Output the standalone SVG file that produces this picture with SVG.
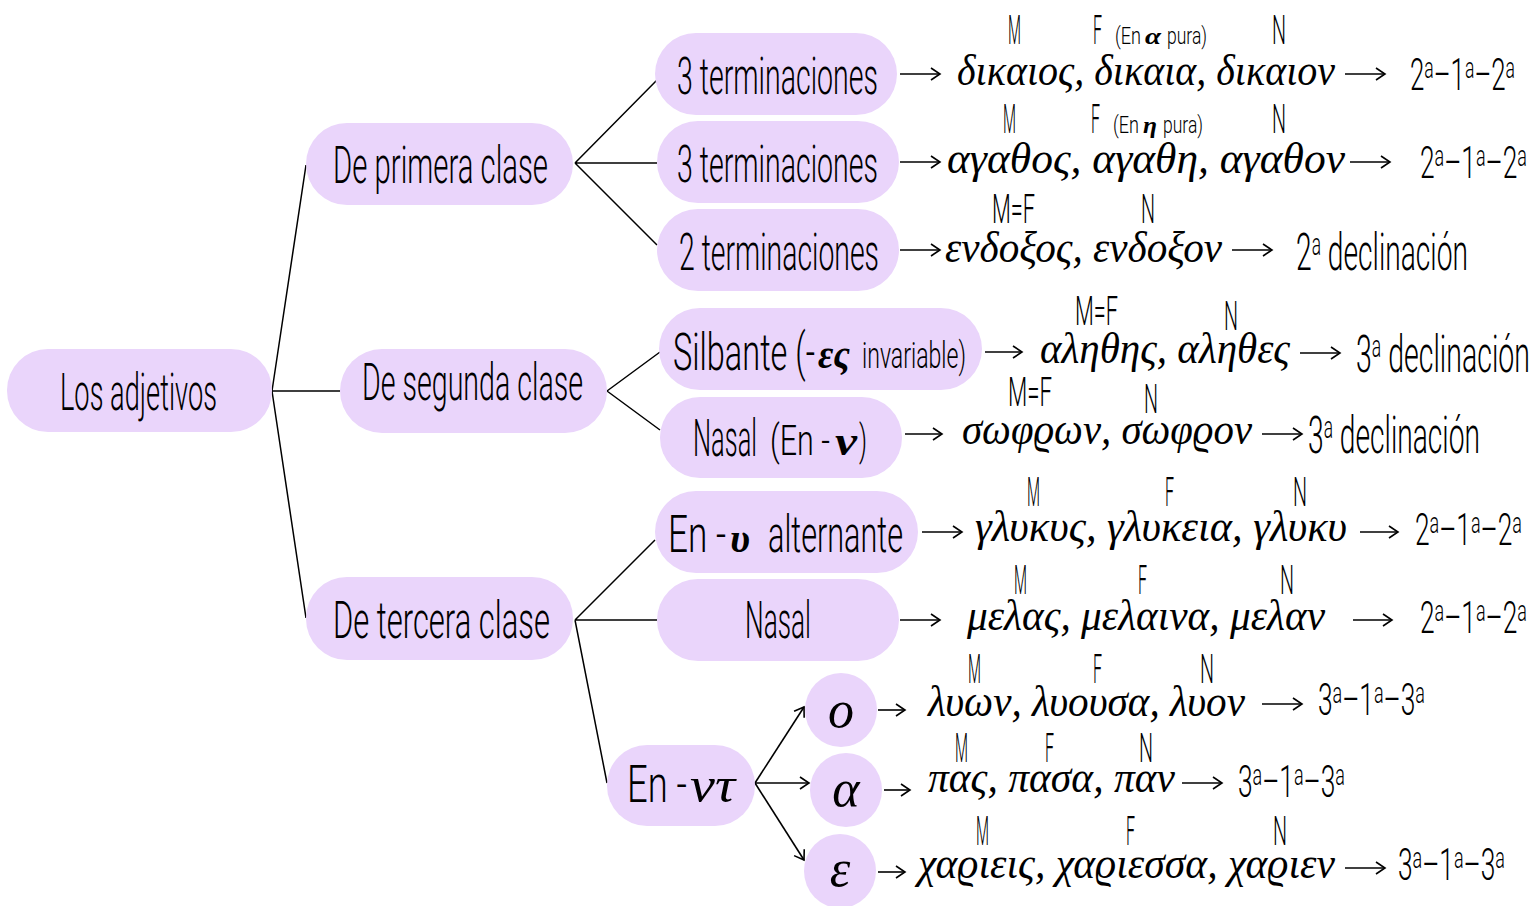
<svg xmlns="http://www.w3.org/2000/svg" width="1538" height="906" viewBox="0 0 1538 906">
<defs>
<style>
.node{fill:#EAD5FB;}
.h{font-family:"Roboto","Open Sans","DejaVu Sans Condensed",sans-serif;font-weight:300;fill:#000;}
.g{font-family:"Liberation Serif","DejaVu Serif",serif;font-style:italic;fill:#000;}
.gb{font-family:"Liberation Serif","DejaVu Serif",serif;font-style:italic;font-weight:bold;fill:#000;}
.c{stroke:#000;stroke-width:1.5;fill:none;}
.a{stroke:#000;stroke-width:1.6;fill:none;marker-end:url(#ah);}
</style>
<marker id="ah" markerUnits="userSpaceOnUse" markerWidth="14" markerHeight="16" refX="11" refY="7" orient="auto">
<path d="M2,1 L11,7 L2,13" fill="none" stroke="#000" stroke-width="1.6"/>
</marker>
</defs>
<rect width="1538" height="906" fill="#fff"/>

<g id="connectors">
<path class="c" d="M272,391 L306,165 M272,391 L340,391 M272,391 L306,618"/>
<path class="c" d="M575,163 L657,80 M575,163 L657,163 M575,163 L657,245"/>
<path class="c" d="M607,391 L660,352 M607,391 L660,430"/>
<path class="c" d="M575,620 L655,540 M575,620 L657,620 M575,620 L607,783"/>
<path class="a" d="M755,783 L804,707"/>
<path class="a" d="M755,783 L809,783"/>
<path class="a" d="M755,783 L804,860"/>
<path class="a" d="M900,74 L940,74"/>
<path class="a" d="M1345,74 L1385,74"/>
<path class="a" d="M900,162 L940,162"/>
<path class="a" d="M1350,162 L1390,162"/>
<path class="a" d="M900,250 L940,250"/>
<path class="a" d="M1232,250 L1272,250"/>
<path class="a" d="M985,352 L1022,352"/>
<path class="a" d="M1300,353 L1340,353"/>
<path class="a" d="M905,434 L942,434"/>
<path class="a" d="M1262,434 L1302,434"/>
<path class="a" d="M922,532 L962,532"/>
<path class="a" d="M1360,532 L1398,532"/>
<path class="a" d="M900,620 L940,620"/>
<path class="a" d="M1353,620 L1392,620"/>
<path class="a" d="M878,710 L905,710"/>
<path class="a" d="M1262,704 L1302,704"/>
<path class="a" d="M884,790 L910,790"/>
<path class="a" d="M1182,783 L1222,783"/>
<path class="a" d="M878,872 L905,872"/>
<path class="a" d="M1345,868 L1385,868"/>
</g>

<g id="n-root">
<rect class="node" x="7" y="349" width="265" height="83" rx="41"/>
<text class="h" x="60" y="410" font-size="52" textLength="157" lengthAdjust="spacingAndGlyphs">Los adjetivos</text>
</g>
<g id="n-primera">
<rect class="node" x="306" y="123" width="267" height="82" rx="41"/>
<text class="h" x="333" y="183" font-size="52" textLength="215" lengthAdjust="spacingAndGlyphs">De primera clase</text>
</g>
<g id="n-segunda">
<rect class="node" x="340" y="349" width="267" height="84" rx="42"/>
<text class="h" x="362" y="400" font-size="52" textLength="221" lengthAdjust="spacingAndGlyphs">De segunda clase</text>
</g>
<g id="n-tercera">
<rect class="node" x="306" y="577" width="267" height="83" rx="41"/>
<text class="h" x="333" y="638" font-size="52" textLength="217" lengthAdjust="spacingAndGlyphs">De tercera clase</text>
</g>
<g id="n-3t1">
<rect class="node" x="655" y="33" width="242" height="82" rx="41"/>
<text class="h" x="677" y="94" font-size="52" textLength="201" lengthAdjust="spacingAndGlyphs">3 terminaciones</text>
</g>
<g id="n-3t2">
<rect class="node" x="657" y="121" width="242" height="82" rx="41"/>
<text class="h" x="677" y="182" font-size="52" textLength="201" lengthAdjust="spacingAndGlyphs">3 terminaciones</text>
</g>
<g id="n-2t">
<rect class="node" x="657" y="209" width="242" height="82" rx="41"/>
<text class="h" x="679" y="270" font-size="52" textLength="200" lengthAdjust="spacingAndGlyphs">2 terminaciones</text>
</g>
<g id="n-silbante">
<rect class="node" x="659" y="308" width="323" height="82" rx="41"/>
<text class="h" x="673" y="370" font-size="52" textLength="142" lengthAdjust="spacingAndGlyphs">Silbante (-</text>
<text class="gb" x="818" y="368" font-size="40" textLength="32" lengthAdjust="spacingAndGlyphs">ες</text>
<text class="h" x="862" y="368" font-size="36" textLength="104" lengthAdjust="spacingAndGlyphs">invariable)</text>
</g>
<g id="n-nasal2">
<rect class="node" x="660" y="397" width="242" height="81" rx="40"/>
<text class="h" x="693" y="456" font-size="52" textLength="64" lengthAdjust="spacingAndGlyphs">Nasal</text>
<text class="h" x="770" y="455" font-size="42" textLength="60" lengthAdjust="spacingAndGlyphs">(En -</text>
<text class="gb" x="835" y="455" font-size="40" textLength="22" lengthAdjust="spacingAndGlyphs">ν</text>
<text class="h" x="859" y="455" font-size="42" textLength="8" lengthAdjust="spacingAndGlyphs">)</text>
</g>
<g id="n-alternante">
<rect class="node" x="655" y="491" width="263" height="82" rx="41"/>
<text class="h" x="668" y="552" font-size="52" textLength="58" lengthAdjust="spacingAndGlyphs">En -</text>
<text class="gb" x="730" y="552" font-size="42" textLength="20" lengthAdjust="spacingAndGlyphs">υ</text>
<text class="h" x="768" y="552" font-size="52" textLength="135" lengthAdjust="spacingAndGlyphs">alternante</text>
</g>
<g id="n-nasal3">
<rect class="node" x="657" y="579" width="242" height="82" rx="41"/>
<text class="h" x="745" y="638" font-size="52" textLength="66" lengthAdjust="spacingAndGlyphs">Nasal</text>
</g>
<g id="n-nt">
<rect class="node" x="607" y="745" width="148" height="81" rx="40"/>
<text class="h" x="627" y="802" font-size="52" textLength="60" lengthAdjust="spacingAndGlyphs">En -</text>
<text class="g" x="690" y="802" font-size="50" textLength="45" lengthAdjust="spacingAndGlyphs">ντ</text>
</g>
<g id="n-o">
<ellipse class="node" cx="841" cy="710" rx="36" ry="37"/>
<text class="g" x="841" y="727" font-size="52" text-anchor="middle">ο</text>
</g>
<g id="n-a">
<ellipse class="node" cx="846" cy="790" rx="36" ry="37"/>
<text class="g" x="846" y="806" font-size="52" text-anchor="middle">α</text>
</g>
<g id="n-e">
<ellipse class="node" cx="840" cy="871" rx="36" ry="37"/>
<text class="g" x="840" y="886" font-size="52" text-anchor="middle">ε</text>
</g>

<g id="rows">
<!-- row 1 -->
<text class="h" x="1008" y="44" font-size="40" textLength="13" lengthAdjust="spacingAndGlyphs">M</text>
<text class="h" x="1093" y="44" font-size="40" textLength="9" lengthAdjust="spacingAndGlyphs">F</text>
<text class="h" x="1115" y="44" font-size="24" textLength="26" lengthAdjust="spacingAndGlyphs">(En</text>
<text class="gb" x="1145" y="44" font-size="24" textLength="16" lengthAdjust="spacingAndGlyphs">α</text>
<text class="h" x="1167" y="44" font-size="24" textLength="40" lengthAdjust="spacingAndGlyphs">pura)</text>
<text class="h" x="1272" y="44" font-size="40" textLength="14" lengthAdjust="spacingAndGlyphs">N</text>
<text class="g" x="957" y="85" font-size="45" textLength="378" lengthAdjust="spacingAndGlyphs">δικαιος, δικαια, δικαιον</text>
<text class="h" x="1410" y="90" font-size="44" textLength="105" lengthAdjust="spacingAndGlyphs">2<tspan font-size="30" dy="-12">a</tspan><tspan dy="12">–1</tspan><tspan font-size="30" dy="-12">a</tspan><tspan dy="12">–2</tspan><tspan font-size="30" dy="-12">a</tspan></text>
<!-- row 2 -->
<text class="h" x="1003" y="133" font-size="40" textLength="13" lengthAdjust="spacingAndGlyphs">M</text>
<text class="h" x="1091" y="133" font-size="40" textLength="9" lengthAdjust="spacingAndGlyphs">F</text>
<text class="h" x="1113" y="133" font-size="24" textLength="26" lengthAdjust="spacingAndGlyphs">(En</text>
<text class="gb" x="1143" y="133" font-size="24" textLength="14" lengthAdjust="spacingAndGlyphs">η</text>
<text class="h" x="1163" y="133" font-size="24" textLength="40" lengthAdjust="spacingAndGlyphs">pura)</text>
<text class="h" x="1272" y="133" font-size="40" textLength="14" lengthAdjust="spacingAndGlyphs">N</text>
<text class="g" x="947" y="173" font-size="45" textLength="398" lengthAdjust="spacingAndGlyphs">αγαθος, αγαθη, αγαθον</text>
<text class="h" x="1420" y="178" font-size="44" textLength="107" lengthAdjust="spacingAndGlyphs">2<tspan font-size="30" dy="-12">a</tspan><tspan dy="12">–1</tspan><tspan font-size="30" dy="-12">a</tspan><tspan dy="12">–2</tspan><tspan font-size="30" dy="-12">a</tspan></text>
<!-- row 3 -->
<text class="h" x="992" y="223" font-size="40" textLength="43" lengthAdjust="spacingAndGlyphs">M=F</text>
<text class="h" x="1141" y="223" font-size="40" textLength="14" lengthAdjust="spacingAndGlyphs">N</text>
<text class="g" x="945" y="262" font-size="45" textLength="277" lengthAdjust="spacingAndGlyphs">ενδοξος, ενδοξον</text>
<text class="h" x="1296" y="270" font-size="52" textLength="172" lengthAdjust="spacingAndGlyphs">2<tspan font-size="32" dy="-15">a</tspan><tspan dy="15"> declinación</tspan></text>
<!-- row 4 -->
<text class="h" x="1075" y="325" font-size="40" textLength="43" lengthAdjust="spacingAndGlyphs">M=F</text>
<text class="h" x="1224" y="330" font-size="40" textLength="14" lengthAdjust="spacingAndGlyphs">N</text>
<text class="g" x="1040" y="363" font-size="45" textLength="250" lengthAdjust="spacingAndGlyphs">αληθης, αληθες</text>
<text class="h" x="1356" y="372" font-size="52" textLength="174" lengthAdjust="spacingAndGlyphs">3<tspan font-size="32" dy="-15">a</tspan><tspan dy="15"> declinación</tspan></text>
<!-- row 5 -->
<text class="h" x="1008" y="406" font-size="40" textLength="44" lengthAdjust="spacingAndGlyphs">M=F</text>
<text class="h" x="1144" y="413" font-size="40" textLength="14" lengthAdjust="spacingAndGlyphs">N</text>
<text class="g" x="962" y="444" font-size="45" textLength="290" lengthAdjust="spacingAndGlyphs">σωφϱων, σωφϱον</text>
<text class="h" x="1308" y="453" font-size="52" textLength="172" lengthAdjust="spacingAndGlyphs">3<tspan font-size="32" dy="-15">a</tspan><tspan dy="15"> declinación</tspan></text>
<!-- row 6 -->
<text class="h" x="1027" y="506" font-size="40" textLength="13" lengthAdjust="spacingAndGlyphs">M</text>
<text class="h" x="1165" y="506" font-size="40" textLength="9" lengthAdjust="spacingAndGlyphs">F</text>
<text class="h" x="1293" y="506" font-size="40" textLength="14" lengthAdjust="spacingAndGlyphs">N</text>
<text class="g" x="975" y="541" font-size="45" textLength="372" lengthAdjust="spacingAndGlyphs">γλυκυς, γλυκεια, γλυκυ</text>
<text class="h" x="1415" y="545" font-size="44" textLength="107" lengthAdjust="spacingAndGlyphs">2<tspan font-size="30" dy="-12">a</tspan><tspan dy="12">–1</tspan><tspan font-size="30" dy="-12">a</tspan><tspan dy="12">–2</tspan><tspan font-size="30" dy="-12">a</tspan></text>
<!-- row 7 -->
<text class="h" x="1014" y="594" font-size="40" textLength="13" lengthAdjust="spacingAndGlyphs">M</text>
<text class="h" x="1138" y="594" font-size="40" textLength="9" lengthAdjust="spacingAndGlyphs">F</text>
<text class="h" x="1280" y="594" font-size="40" textLength="14" lengthAdjust="spacingAndGlyphs">N</text>
<text class="g" x="967" y="630" font-size="45" textLength="358" lengthAdjust="spacingAndGlyphs">μελας, μελαινα, μελαν</text>
<text class="h" x="1420" y="633" font-size="44" textLength="107" lengthAdjust="spacingAndGlyphs">2<tspan font-size="30" dy="-12">a</tspan><tspan dy="12">–1</tspan><tspan font-size="30" dy="-12">a</tspan><tspan dy="12">–2</tspan><tspan font-size="30" dy="-12">a</tspan></text>
<!-- row 8 -->
<text class="h" x="968" y="683" font-size="40" textLength="13" lengthAdjust="spacingAndGlyphs">M</text>
<text class="h" x="1093" y="683" font-size="40" textLength="9" lengthAdjust="spacingAndGlyphs">F</text>
<text class="h" x="1200" y="683" font-size="40" textLength="14" lengthAdjust="spacingAndGlyphs">N</text>
<text class="g" x="928" y="716" font-size="45" textLength="317" lengthAdjust="spacingAndGlyphs">λυων, λυουσα, λυον</text>
<text class="h" x="1318" y="715" font-size="44" textLength="107" lengthAdjust="spacingAndGlyphs">3<tspan font-size="30" dy="-12">a</tspan><tspan dy="12">–1</tspan><tspan font-size="30" dy="-12">a</tspan><tspan dy="12">–3</tspan><tspan font-size="30" dy="-12">a</tspan></text>
<!-- row 9 -->
<text class="h" x="955" y="762" font-size="40" textLength="13" lengthAdjust="spacingAndGlyphs">M</text>
<text class="h" x="1045" y="762" font-size="40" textLength="9" lengthAdjust="spacingAndGlyphs">F</text>
<text class="h" x="1139" y="762" font-size="40" textLength="14" lengthAdjust="spacingAndGlyphs">N</text>
<text class="g" x="928" y="792" font-size="45" textLength="247" lengthAdjust="spacingAndGlyphs">πας, πασα, παν</text>
<text class="h" x="1238" y="797" font-size="44" textLength="107" lengthAdjust="spacingAndGlyphs">3<tspan font-size="30" dy="-12">a</tspan><tspan dy="12">–1</tspan><tspan font-size="30" dy="-12">a</tspan><tspan dy="12">–3</tspan><tspan font-size="30" dy="-12">a</tspan></text>
<!-- row 10 -->
<text class="h" x="976" y="845" font-size="40" textLength="13" lengthAdjust="spacingAndGlyphs">M</text>
<text class="h" x="1126" y="845" font-size="40" textLength="9" lengthAdjust="spacingAndGlyphs">F</text>
<text class="h" x="1273" y="845" font-size="40" textLength="14" lengthAdjust="spacingAndGlyphs">N</text>
<text class="g" x="918" y="878" font-size="45" textLength="417" lengthAdjust="spacingAndGlyphs">χαϱιεις, χαϱιεσσα, χαϱιεν</text>
<text class="h" x="1398" y="880" font-size="44" textLength="107" lengthAdjust="spacingAndGlyphs">3<tspan font-size="30" dy="-12">a</tspan><tspan dy="12">–1</tspan><tspan font-size="30" dy="-12">a</tspan><tspan dy="12">–3</tspan><tspan font-size="30" dy="-12">a</tspan></text>
</g>
</svg>
